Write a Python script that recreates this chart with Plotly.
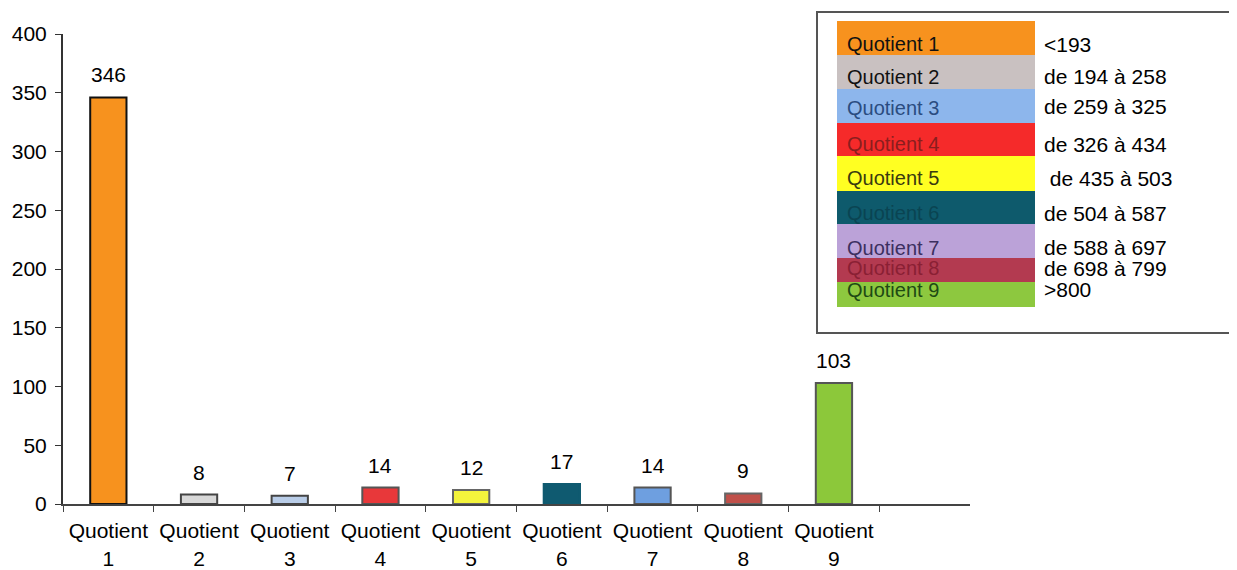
import plotly.graph_objects as go

categories = ["Quotient 1", "Quotient 2", "Quotient 3", "Quotient 4", "Quotient 5",
              "Quotient 6", "Quotient 7", "Quotient 8", "Quotient 9"]
tick_labels = ["Quotient<br>1", "Quotient<br>2", "Quotient<br>3", "Quotient<br>4", "Quotient<br>5",
               "Quotient<br>6", "Quotient<br>7", "Quotient<br>8", "Quotient<br>9"]
values = [346, 8, 7, 14, 12, 17, 14, 9, 103]
bar_colors = ["#F7921E", "#D8D8D8", "#B9CDE8", "#E8383A", "#F4F43C",
              "#0F5A70", "#6E9FE0", "#C0504A", "#8CC83A"]
bar_line_colors = ["#111111", "#444444", "#444444", "#555555", "#666666",
                   "#0F5A70", "#555555", "#666666", "#555555"]

legend_names = ["Quotient 1", "Quotient 2", "Quotient 3", "Quotient 4", "Quotient 5",
                "Quotient 6", "Quotient 7", "Quotient 8", "Quotient 9"]
legend_ranges = ["<193", "de 194 à 258", "de 259 à 325", "de 326 à 434", " de 435 à 503",
                 "de 504 à 587", "de 588 à 697", "de 698 à 799", ">800"]
legend_colors = ["#F7921E", "#C9C1C1", "#8DB6EC", "#F52A2A", "#FFFF22",
                 "#0E5A6C", "#BBA2D8", "#B33A50", "#8DC83F"]
legend_text_colors = ["#111111", "#111111", "#2A4C80", "#8A1E1E", "#3A3A10",
                      "#0A4452", "#3C3060", "#8A2034", "#1E4A14"]

# page body has an 8px margin; target plot area on screen: x 63..970, y 34..504
OFF = 8
L, R, T, B = 63, 970, 34, 504
W, H = 1237 - OFF, 570 - OFF
def px(x):
    return (x - L) / (R - L)
def py(y):
    return (B - y) / (B - T)

FONT = "Liberation Sans, Arial, sans-serif"
FS = 21

fig = go.Figure()
fig.add_trace(go.Bar(
    x=categories, y=values, width=0.4,
    marker=dict(color=bar_colors, line=dict(color=bar_line_colors, width=2)),
    showlegend=False, hoverinfo="x+y",
))

annotations = []
for c, v in zip(categories, values):
    annotations.append(dict(x=c, y=v, xref="x", yref="y", text=str(v), showarrow=False,
                            yanchor="bottom", yshift=9,
                            font=dict(family=FONT, size=FS, color="#000000")))

# legend box
shapes = [dict(type="rect", xref="paper", yref="paper",
               x0=px(817), x1=px(1250), y0=py(333), y1=py(12),
               line=dict(color="#555555", width=2), fillcolor="white", layer="below")]
row_edges = [21, 55, 89, 123, 156, 191, 224, 258, 282, 307]
name_y = [44, 77, 108, 144, 178, 213, 248, 268, 290]
range_y = [44, 77, 107, 144, 178, 213, 247, 268, 289]
for i in range(len(legend_names)):
    shapes.append(dict(type="rect", xref="paper", yref="paper",
                       x0=px(837), x1=px(1035), y0=py(row_edges[i + 1]), y1=py(row_edges[i]),
                       line=dict(width=0), fillcolor=legend_colors[i]))
    annotations.append(dict(x=px(845), y=py(name_y[i]), xref="paper", yref="paper",
                            text=legend_names[i], showarrow=False, xanchor="left", yanchor="middle",
                            font=dict(family=FONT, size=20, color=legend_text_colors[i])))
    annotations.append(dict(x=px(1042), y=py(range_y[i]), xref="paper", yref="paper",
                            text=legend_ranges[i], showarrow=False, xanchor="left", yanchor="middle",
                            font=dict(family=FONT, size=FS, color="#000000")))

fig.update_layout(
    width=W, height=H,
    margin=dict(l=L - OFF, r=W - (R - OFF), t=T - OFF, b=H - (B - OFF), autoexpand=False),
    paper_bgcolor="white", plot_bgcolor="white",
    font=dict(family=FONT, size=FS, color="#000000"),
    shapes=shapes, annotations=annotations,
    bargap=0.6,
)
fig.update_xaxes(
    type="category", categoryorder="array", categoryarray=categories + [" "],
    tickvals=categories, ticktext=tick_labels,
    range=[-0.5, 9.5], tickson="boundaries", ticks="outside", ticklen=6,
    tickcolor="#444444", showline=True, linecolor="#444444", linewidth=2,
    showgrid=False, tickfont=dict(family=FONT, size=FS, color="#000000"),
    ticklabelstandoff=7, automargin=False,
)
fig.update_yaxes(
    range=[0, 400], dtick=50, ticks="outside", ticklen=6, tickcolor="#333333",
    showline=True, linecolor="#333333", linewidth=2, showgrid=False, zeroline=False,
    tickfont=dict(family=FONT, size=FS, color="#000000"), ticklabelstandoff=4,
    automargin=False,
)

fig.write_html("out.html")
